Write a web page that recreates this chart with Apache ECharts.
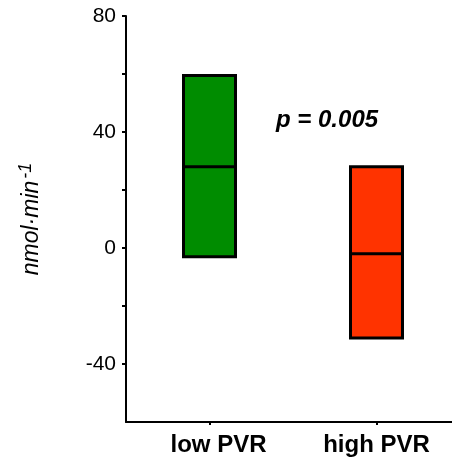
<!DOCTYPE html>
<html>
<head>
<meta charset="utf-8">
<script src="https://cdn.jsdelivr.net/npm/echarts@6/dist/echarts.min.js"></script>
<style>
  html, body { margin: 0; padding: 0; background: #fff; }
  #chart { width: 452px; height: 462px; }
</style>
</head>
<body>
<div id="chart"></div>
<script>
// groups and box values: [min, q1, median, q3, max]
var groups = ["low PVR", "high PVR"];
var boxLow = [-3, -3, 28, 59.5, 59.5];
var boxHigh = [-31, -31, -2, 28, 28];
var boxColors = ["#008c00", "#ff3300"];
var yTickValues = [-40, -20, 0, 20, 40, 60, 80];
var yLabelValues = [-40, 0, 40, 80];
var pText = "p = 0.005";

var font = "Liberation Sans, Arial, sans-serif";
var myChart = echarts.init(document.getElementById("chart"), null, { renderer: "canvas" });

var option = {
  animation: false,
  // the x axis runs past the right edge of the picture
  grid: { left: 126, width: 334, top: 16, bottom: 40, outerBoundsMode: "none", containLabel: false },
  xAxis: {
    type: "category",
    data: groups,
    axisLine: { onZero: false, lineStyle: { color: "#000", width: 2 } },
    axisTick: { show: true, alignWithLabel: true, interval: 0, length: 3, lineStyle: { color: "#000", width: 2 } },
    axisLabel: {
      interval: 0,
      color: "#000",
      fontFamily: font,
      fontWeight: "bold",
      fontSize: 24,
      margin: 11,
      formatter: function (v, i) {
        return i === 0 ? "{shift|" + v + "}" : v;
      },
      rich: {
        shift: { fontFamily: font, fontWeight: "bold", fontSize: 24, color: "#000", padding: [0, 0, 0, 18] }
      }
    }
  },
  yAxis: {
    type: "value",
    min: -60,
    max: 80,
    interval: 20,
    name: "{a|nmol·min}{b|-1}",
    nameLocation: "middle",
    nameRotate: 90,
    nameGap: 83,
    nameTextStyle: {
      rich: {
        a: { fontFamily: font, fontStyle: "italic", fontSize: 23, color: "#000", lineHeight: 26, verticalAlign: "bottom" },
        b: { fontFamily: font, fontStyle: "italic", fontSize: 18, color: "#000", lineHeight: 26, verticalAlign: "bottom", padding: [0, 0, 8, 2] }
      }
    },
    splitLine: { show: false },
    axisLine: { show: true, lineStyle: { color: "#000", width: 2 } },
    axisTick: { show: true, length: 4, customValues: yTickValues, lineStyle: { color: "#000", width: 2 } },
    axisLabel: {
      color: "#000",
      fontFamily: font,
      fontSize: 21,
      margin: 10,
      customValues: yLabelValues
    }
  },
  series: [
    {
      type: "boxplot",
      boxWidth: [52, 52],
      itemStyle: { borderColor: "#000", borderWidth: 3 },
      data: [
        { value: boxLow, itemStyle: { color: boxColors[0] } },
        { value: boxHigh, itemStyle: { color: boxColors[1] } }
      ]
    }
  ],
  graphic: [
    {
      type: "text",
      left: 276,
      top: 108,
      style: {
        text: pText,
        fill: "#000",
        font: "italic bold 24px 'Liberation Sans', Arial, sans-serif"
      }
    }
  ]
};

myChart.setOption(option);
</script>
</body>
</html>
